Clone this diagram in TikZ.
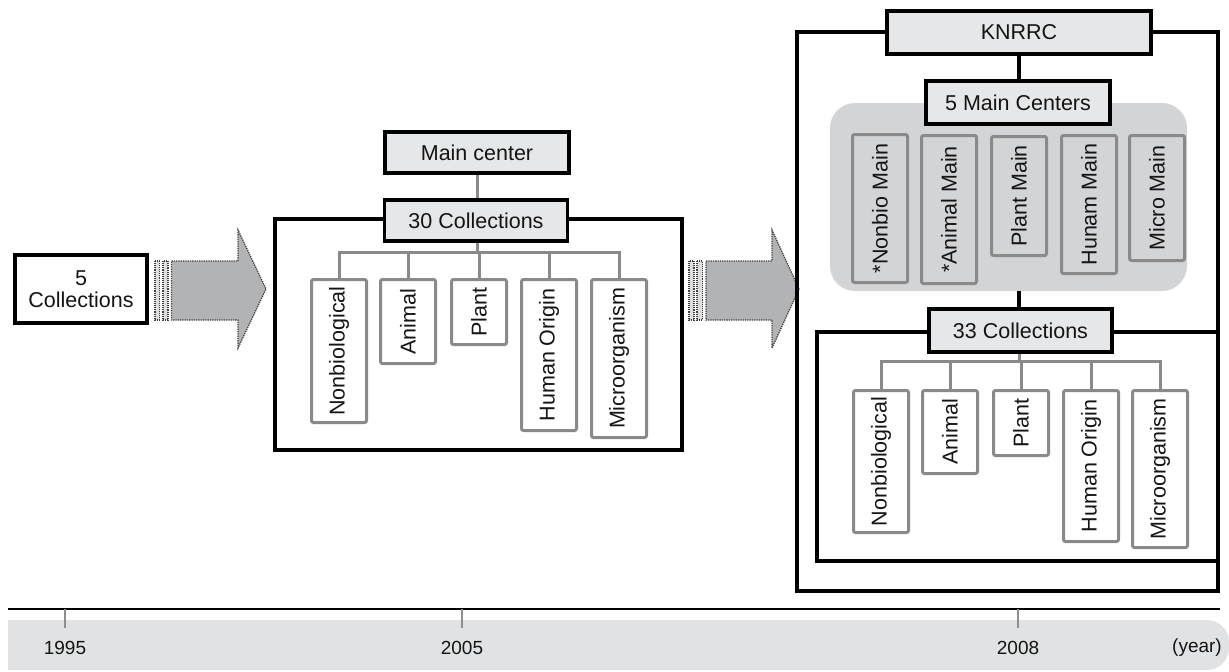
\documentclass[tikz,border=0pt]{standalone}
\usepackage{fontspec}
\setmainfont{Liberation Sans}
\definecolor{boxgray}{HTML}{E6E7E8}
\definecolor{regiongray}{HTML}{D3D4D6}
\definecolor{leafgray}{HTML}{8A8A8A}
\definecolor{arrowgray}{HTML}{B2B3B5}
\definecolor{dotgray}{HTML}{404040}
\definecolor{bandgray}{HTML}{E1E2E3}
\definecolor{tickgray}{HTML}{8E8E8E}
\definecolor{inkcol}{HTML}{141414}
\tikzset{
  every node/.style={text=inkcol, font=\fontsize{21.5}{25}\selectfont},
  hdr/.style={draw=black, line width=3.2pt, fill=boxgray, inner sep=0pt},
  leaf/.style={draw=leafgray, line width=3pt, rounded corners=2pt, fill=white,
    rotate=90, anchor=east, inner sep=0pt, minimum height=55pt},
  mainleaf/.style={leaf, fill=regiongray},
  frame/.style={draw=black, line width=3.2pt},
  gconn/.style={draw=leafgray, line width=3pt},
  bconn/.style={draw=black, line width=3.2pt},
  arrowbody/.style={fill=arrowgray, draw=dotgray, densely dotted, line width=1.3pt},
  stripe/.style={fill=arrowgray!45, draw=dotgray, densely dotted, line width=1.1pt},
  tick/.style={draw=tickgray, line width=1.8pt},
  yearlab/.style={font=\fontsize{19}{22}\selectfont},
}
\begin{document}
\begin{tikzpicture}[x=1pt, y=-1pt]
\useasboundingbox (0,0) rectangle (1229,672);

% ---------- 1995: five collections ----------
\node[hdr, fill=white, minimum width=132pt, minimum height=68pt, align=center]
  (c5) at (81,289) {5\\[-3pt]Collections};

% transition arrow 1995 -> 2005
\draw[stripe] (155,261) rectangle (159.5,320);
\draw[stripe] (163,261) rectangle (168,320);
\draw[arrowbody] (171.5,261) -- (238,261) -- (238,230) -- (266,289) -- (238,348)
  -- (238,320) -- (171.5,320) -- cycle;

% ---------- 2005: main center with 30 collections ----------
\draw[frame] (275,219) rectangle (682,450);
\node[hdr, minimum width=184pt, minimum height=41pt] (mc) at (477,152.5) {Main center};
\node[hdr, minimum width=183pt, minimum height=41pt] (c30) at (476,220.5) {30 Collections};

\node[leaf, minimum width=143pt] (n1) at (339,278) {Nonbiological};
\node[leaf, minimum width=84pt]  (n2) at (408,278) {Animal};
\node[leaf, minimum width=65pt]  (n3) at (479,278) {Plant};
\node[leaf, minimum width=151pt] (n4) at (549,278) {Human Origin};
\node[leaf, minimum width=158pt] (n5) at (619,278) {Microorganism};

\coordinate (bus30) at (477,252);
\draw[gconn] (mc.south -| bus30) -- (c30.north -| bus30);
\draw[gconn] (c30.south -| bus30) -- (bus30);
\draw[gconn] (n1.east) |- (bus30) -| (n5.east);
\draw[gconn] (n2.east) -- (n2.east |- bus30);
\draw[gconn] (n3.east) -- (n3.east |- bus30);
\draw[gconn] (n4.east) -- (n4.east |- bus30);

% transition arrow 2005 -> 2008
\draw[stripe] (689,261) rectangle (694,320);
\draw[stripe] (697,261) rectangle (702.5,320);
\draw[arrowbody] (706,261) -- (772,261) -- (772,230) -- (799,289) -- (772,348)
  -- (772,320) -- (706,320) -- cycle;

% ---------- 2008: KNRRC ----------
\draw[frame] (797,32) rectangle (1218,591);
\draw[frame] (817,332) rectangle (1218,561);

\node[fill=regiongray, rounded corners=25pt, minimum width=357pt, minimum height=188pt,
  inner sep=0pt] (grp) at (1008.5,197) {};

\node[hdr, minimum width=264pt, minimum height=43pt] (kn) at (1019,32.5) {KNRRC};
\node[hdr, minimum width=184pt, minimum height=43pt] (m5) at (1018,102.5) {5 Main Centers};
\draw[bconn] (kn.south) -- (kn.south |- m5.north);

\node[mainleaf, minimum width=148pt] (mm1) at (880,133) {*Nonbio Main};
\node[mainleaf, minimum width=148pt] (mm2) at (949,134) {*Animal Main};
\node[mainleaf, minimum width=119pt] (mm3) at (1019,135) {Plant Main};
\node[mainleaf, minimum width=138pt] (mm4) at (1089,134) {Hunam Main};
\node[mainleaf, minimum width=125pt] (mm5) at (1157,134) {Micro Main};

\node[hdr, minimum width=183pt, minimum height=43pt] (c33) at (1020.5,330.5) {33 Collections};
\coordinate (bus33) at (1019,361);
\draw[bconn] (bus33 |- grp.south) -- (bus33 |- c33.north);

\node[leaf, minimum width=142pt] (r1) at (881,389) {Nonbiological};
\node[leaf, minimum width=83pt]  (r2) at (950,389) {Animal};
\node[leaf, minimum width=65pt]  (r3) at (1021,389) {Plant};
\node[leaf, minimum width=151pt] (r4) at (1091,389) {Human Origin};
\node[leaf, minimum width=157pt] (r5) at (1160,389) {Microorganism};

\draw[gconn] (c33.south -| bus33) -- (bus33);
\draw[gconn] (r1.east) |- (bus33) -| (r5.east);
\draw[gconn] (r2.east) -- (r2.east |- bus33);
\draw[gconn] (r3.east) -- (r3.east |- bus33);
\draw[gconn] (r4.east) -- (r4.east |- bus33);

% ---------- time axis ----------
\fill[bandgray, rounded corners=22pt] (8,620) rectangle (1229,670);
\fill[bandgray] (8,620) rectangle (60,670);
\coordinate (axl) at (8,609);
\coordinate (axr) at (1220,609);
\draw[black, line width=1.8pt] (axl) -- (axr);
\coordinate (t95) at (65,609);
\coordinate (t05) at (462,609);
\coordinate (t08) at (1018,609);
\draw[tick] (t95) -- ++(0,19);
\draw[tick] (t05) -- ++(0,19);
\draw[tick] (t08) -- ++(0,19);
\node[yearlab] (y95) at (65,648) {1995};
\node[yearlab] (y05) at (462,648) {2005};
\node[yearlab] (y08) at (1018,648) {2008};
\node[yearlab] (yr) at (1197,648) {(year)};
\end{tikzpicture}
\end{document}
